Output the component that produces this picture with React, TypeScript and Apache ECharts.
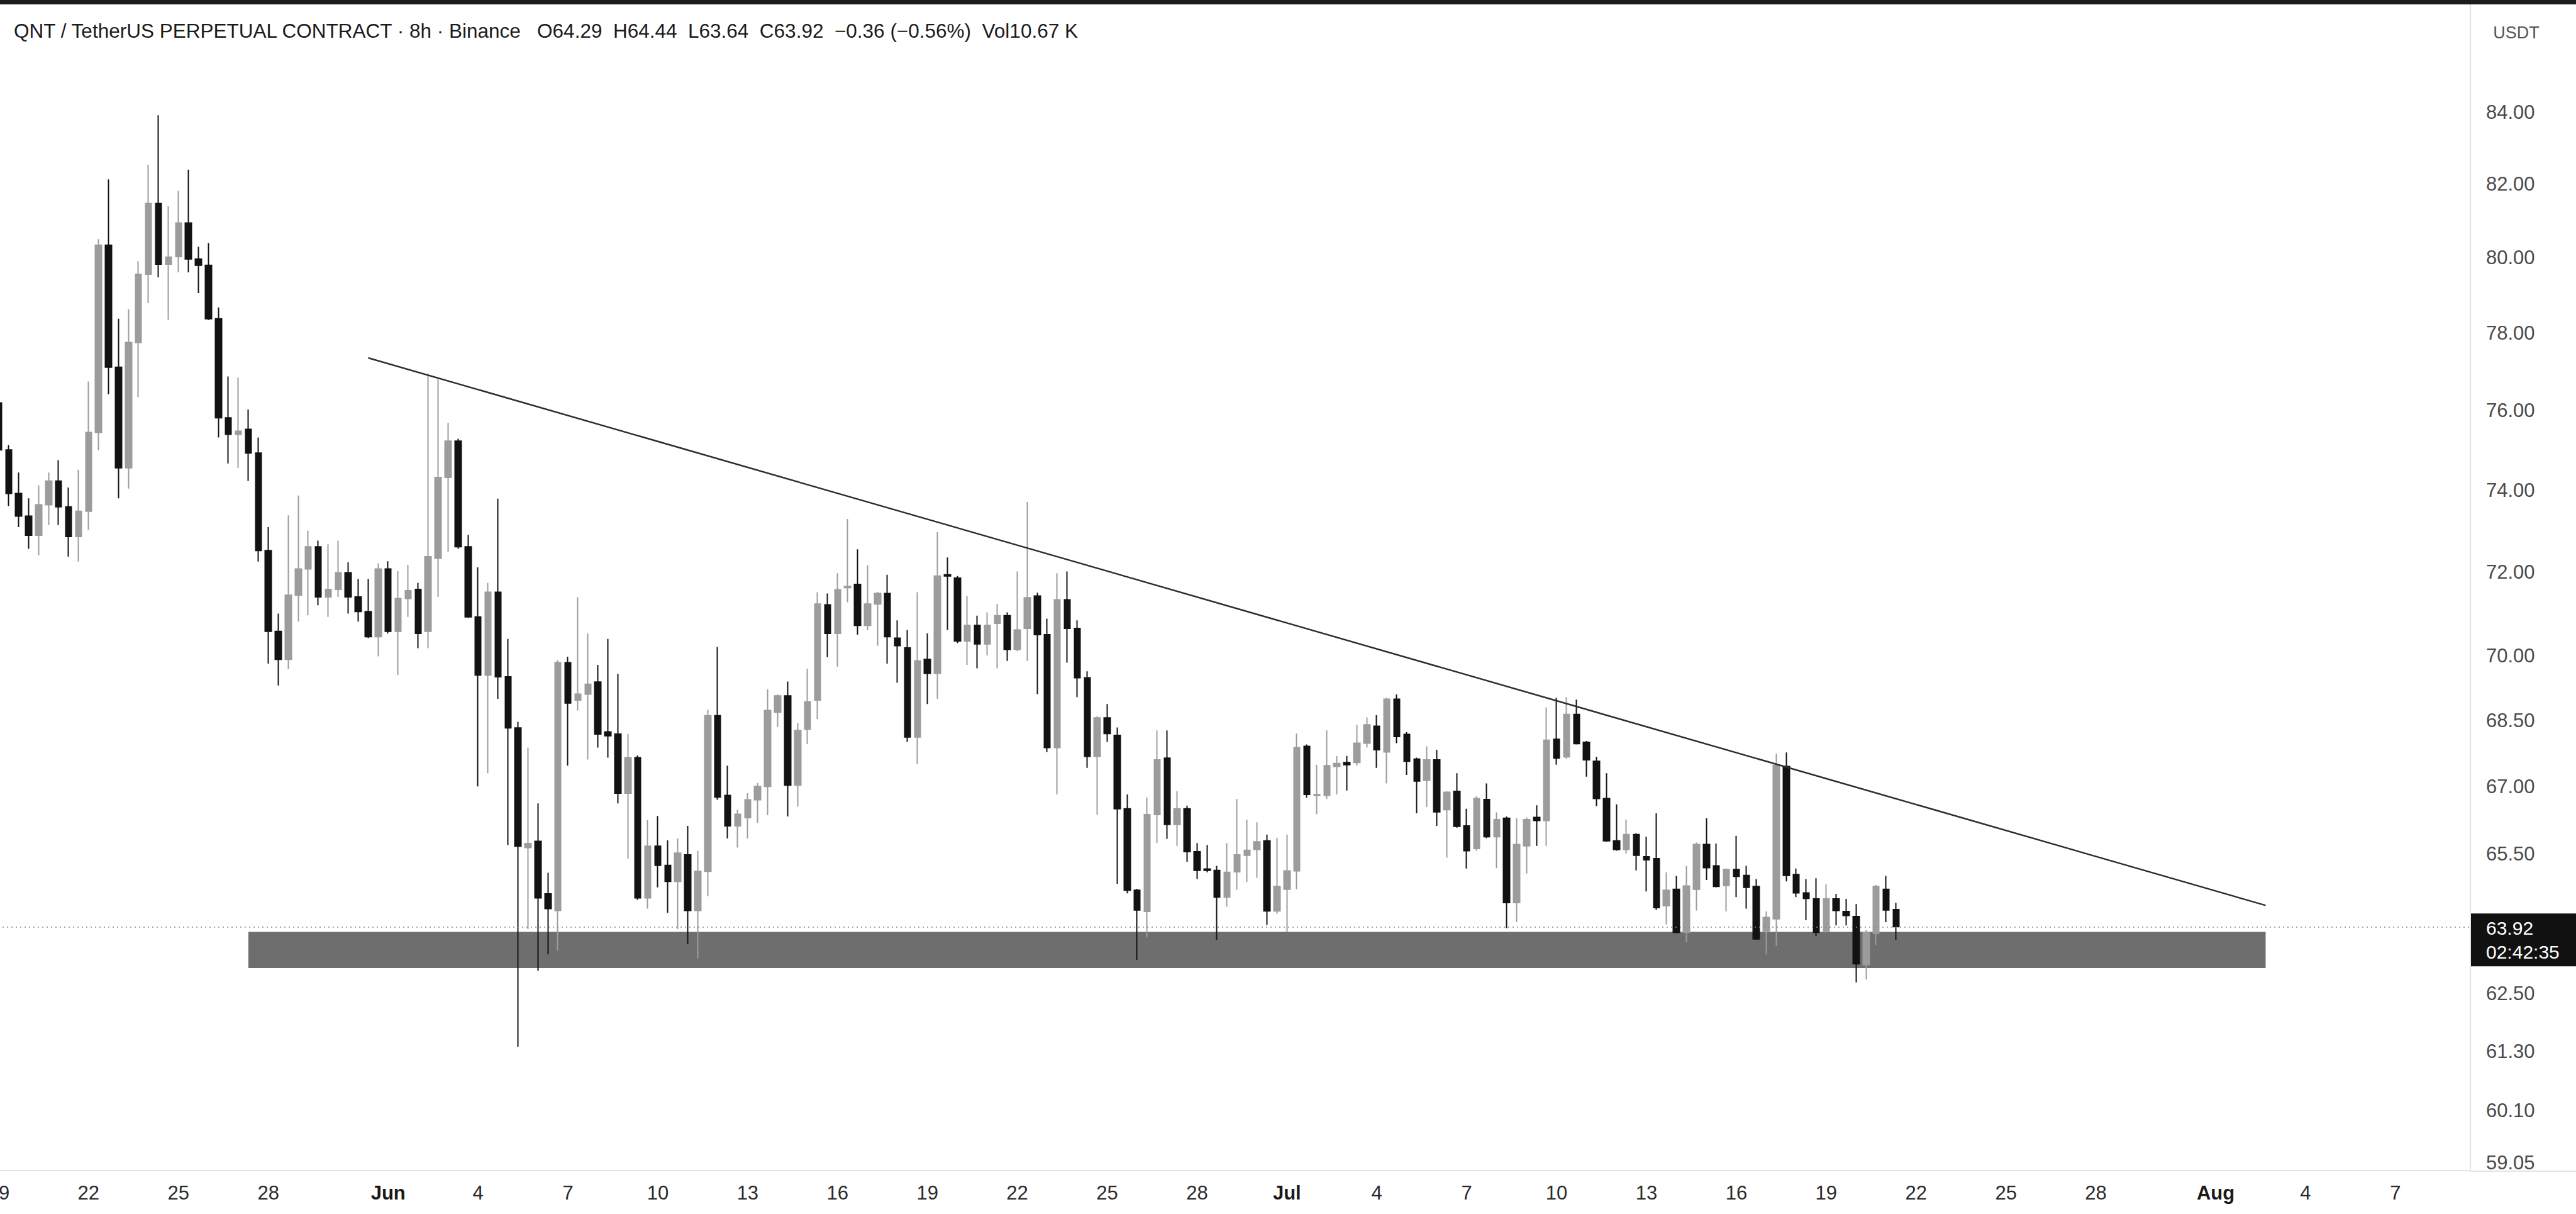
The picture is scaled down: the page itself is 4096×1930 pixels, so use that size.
import React, { useEffect, useRef } from "react";
import * as echarts from "echarts";

// ---------- data ----------
const MONTHS = ["Jan", "Feb", "Mar", "Apr", "May", "Jun", "Jul", "Aug", "Sep", "Oct", "Nov", "Dec"];
const MONTH_DAYS = [31, 28, 31, 30, 31, 30, 31, 31, 30, 31, 30, 31];
const START_MONTH = 4; // May
const START_DAY = 19;
const SLOT_HOURS = ["00:00", "08:00", "16:00"];
const SLOT_COUNT = 248; // 8h slots on the time axis (incl. empty future space)

// 8h candles from May 19 00:00: [open, high, low, close]
const candles: [number, number, number, number][] = [
  [76.2, 76.4, 74.8, 75.01], [75.01, 75.13, 73.61, 73.92], [73.92, 74.44, 73.09, 73.36], [73.36, 73.8, 72.56, 72.89],
  [72.89, 74.12, 72.4, 73.64], [73.64, 74.44, 73.14, 74.23], [74.23, 74.75, 73.14, 73.59], [73.59, 74.07, 72.37, 72.86],
  [72.86, 74.51, 72.25, 73.48], [73.48, 76.75, 73.02, 75.45], [75.45, 80.5, 75.0, 80.34], [80.34, 82.13, 76.42, 77.12],
  [77.12, 78.38, 73.8, 74.56], [74.56, 78.63, 74.04, 77.76], [77.76, 79.91, 76.34, 79.56], [79.56, 82.54, 78.79, 81.47],
  [81.47, 83.92, 79.48, 79.83], [79.83, 81.4, 78.35, 80.02], [80.03, 81.82, 79.61, 80.94], [80.94, 82.4, 79.61, 79.97],
  [79.97, 80.3, 79.06, 79.8], [79.8, 80.4, 78.35, 78.38], [78.38, 78.68, 75.32, 75.82], [75.82, 76.88, 74.67, 75.4],
  [75.4, 76.85, 74.56, 75.48], [75.53, 76.03, 74.23, 74.93], [74.93, 75.32, 72.25, 72.52], [72.52, 73.09, 69.82, 70.58],
  [70.58, 71.0, 69.31, 69.92], [69.92, 73.38, 69.69, 71.44], [71.44, 73.87, 70.81, 72.07], [72.07, 73.0, 70.96, 72.61],
  [72.61, 72.76, 71.2, 71.4], [71.4, 72.67, 70.92, 71.58], [71.58, 72.76, 71.4, 71.98], [71.98, 72.23, 71.0, 71.4],
  [71.4, 71.83, 70.81, 71.05], [71.05, 71.83, 70.42, 70.45], [70.45, 72.21, 69.99, 72.07], [72.07, 72.26, 70.53, 70.58],
  [70.58, 72.02, 69.55, 71.36], [71.36, 72.17, 70.92, 71.55], [71.58, 71.74, 70.18, 70.53], [70.58, 76.95, 70.18, 72.37],
  [72.33, 76.8, 71.4, 74.32], [74.32, 75.69, 72.49, 75.23], [75.23, 75.29, 72.56, 72.61], [72.61, 72.9, 70.9, 70.92],
  [70.92, 72.11, 67.0, 69.55], [69.55, 71.74, 67.3, 71.51], [71.51, 73.79, 69.0, 69.51], [69.51, 70.4, 65.7, 68.33],
  [68.33, 68.47, 61.4, 65.67], [65.64, 67.88, 63.87, 65.73], [65.78, 66.62, 62.98, 64.54], [64.63, 65.09, 63.33, 64.31],
  [64.27, 69.9, 63.41, 69.84], [69.84, 69.98, 67.47, 68.9], [68.97, 71.39, 68.73, 69.11], [69.11, 70.53, 67.61, 69.34],
  [69.39, 69.79, 67.88, 68.19], [68.24, 70.4, 67.65, 68.15], [68.19, 69.58, 66.62, 66.85], [66.85, 68.19, 65.4, 67.65],
  [67.65, 67.7, 64.5, 64.54], [64.54, 66.25, 64.31, 65.67], [65.67, 66.34, 64.77, 65.25], [65.25, 65.8, 64.22, 64.9],
  [64.9, 65.84, 63.87, 65.52], [65.48, 66.12, 63.55, 64.27], [64.27, 65.57, 63.24, 65.12], [65.12, 68.75, 64.58, 68.61],
  [68.61, 70.21, 66.7, 66.76], [66.8, 67.47, 65.84, 66.12], [66.12, 66.48, 65.64, 66.38], [66.3, 66.85, 65.84, 66.7],
  [66.7, 67.08, 66.19, 67.0], [67.0, 69.22, 66.36, 68.73], [68.69, 69.1, 68.35, 69.07], [69.07, 69.4, 66.33, 67.03],
  [67.03, 68.44, 66.55, 68.27], [68.3, 69.7, 67.96, 68.93], [68.97, 71.51, 68.53, 71.23], [71.21, 71.48, 69.97, 70.53],
  [70.53, 71.97, 69.75, 71.57], [71.62, 73.29, 71.27, 71.65], [71.7, 72.55, 70.5, 70.72], [70.72, 72.16, 70.61, 71.23],
  [71.23, 71.52, 70.24, 71.48], [71.48, 71.93, 69.82, 70.45], [70.42, 70.84, 69.37, 70.24], [70.19, 70.61, 68.01, 68.12],
  [68.12, 71.51, 67.5, 69.88], [69.92, 70.53, 68.88, 69.59], [69.59, 72.97, 69.0, 71.9], [71.93, 72.35, 70.61, 71.9],
  [71.85, 71.9, 70.3, 70.35], [70.35, 71.42, 69.79, 70.72], [70.72, 70.95, 69.71, 70.28], [70.28, 71.03, 70.01, 70.72],
  [70.77, 71.23, 69.71, 70.95], [70.95, 71.03, 69.88, 70.15], [70.15, 72.01, 70.11, 70.61], [70.65, 73.71, 69.88, 71.38],
  [71.42, 71.5, 69.11, 70.5], [70.5, 70.88, 67.78, 67.88], [67.88, 71.97, 66.82, 71.33], [71.33, 72.01, 69.84, 70.65],
  [70.65, 70.84, 69.04, 69.49], [69.49, 69.64, 67.42, 67.68], [67.68, 68.6, 66.37, 68.56], [68.56, 68.88, 68.01, 68.2],
  [68.16, 68.34, 64.85, 66.5], [66.5, 66.82, 64.64, 64.71], [64.71, 64.74, 63.21, 64.28], [64.25, 66.75, 63.7, 66.37],
  [66.37, 68.27, 65.74, 67.6], [67.64, 68.27, 65.83, 66.15], [66.15, 66.89, 65.68, 66.5], [66.5, 66.57, 65.33, 65.55],
  [65.55, 65.74, 64.95, 65.14], [65.17, 65.7, 65.1, 65.14], [65.14, 65.24, 63.64, 64.56], [64.56, 65.74, 64.35, 65.1],
  [65.11, 66.72, 64.72, 65.48], [65.47, 66.26, 64.89, 65.58], [65.6, 66.2, 64.98, 65.77], [65.79, 65.93, 63.96, 64.26],
  [64.26, 65.86, 64.2, 64.79], [64.73, 65.93, 63.81, 65.13], [65.13, 68.2, 64.73, 67.88], [67.91, 67.95, 66.75, 66.82],
  [66.8, 67.49, 66.38, 66.82], [66.8, 68.27, 66.72, 67.47], [67.45, 67.69, 66.82, 67.52], [67.54, 67.69, 66.91, 67.49],
  [67.54, 68.4, 67.47, 67.98], [67.98, 68.57, 67.88, 68.4], [68.37, 68.62, 67.42, 67.83], [67.78, 69.02, 67.07, 68.99],
  [68.99, 69.1, 67.98, 68.13], [68.18, 68.23, 67.26, 67.57], [67.62, 67.65, 66.4, 67.12], [67.14, 67.91, 66.54, 67.6],
  [67.6, 67.83, 66.12, 66.43], [66.48, 66.89, 65.42, 66.87], [66.89, 67.3, 66.08, 66.11], [66.12, 66.5, 65.18, 65.57],
  [65.62, 66.78, 65.57, 66.73], [66.71, 67.07, 65.85, 65.88], [65.88, 66.42, 65.19, 66.26], [66.29, 66.33, 63.89, 64.44],
  [64.44, 66.29, 64.02, 65.71], [65.68, 66.31, 65.07, 66.26], [66.31, 66.58, 65.68, 66.24], [66.24, 68.8, 65.68, 68.05],
  [68.07, 69.02, 67.49, 67.64], [67.67, 69.04, 67.62, 68.64], [68.64, 68.98, 67.95, 67.97], [68.0, 68.03, 67.22, 67.6],
  [67.57, 67.67, 66.56, 66.73], [66.73, 67.3, 65.77, 65.79], [65.79, 66.6, 65.57, 65.6], [65.6, 66.26, 65.51, 65.93],
  [65.93, 65.96, 65.14, 65.47], [65.44, 65.88, 64.68, 65.37], [65.4, 66.4, 64.28, 64.33], [64.37, 65.1, 63.97, 64.71],
  [64.73, 65.02, 63.78, 63.8], [63.8, 65.24, 63.59, 64.8], [64.73, 65.75, 64.27, 65.71], [65.71, 66.29, 64.93, 65.2],
  [65.24, 65.73, 64.77, 64.79], [64.81, 65.18, 64.25, 65.16], [65.16, 65.9, 64.56, 65.01], [65.03, 65.24, 64.31, 64.77],
  [64.79, 64.95, 63.64, 63.66], [63.83, 64.25, 63.33, 64.12], [64.09, 67.74, 63.51, 67.48], [67.45, 67.77, 64.9, 65.03],
  [65.05, 65.18, 64.56, 64.65], [64.65, 64.95, 64.06, 64.53], [64.52, 64.97, 63.72, 63.8], [63.83, 64.84, 63.8, 64.52],
  [64.52, 64.63, 63.95, 64.27], [64.25, 64.52, 63.95, 64.16], [64.14, 64.41, 62.74, 63.13], [63.11, 63.85, 62.8, 63.8],
  [63.78, 64.82, 63.53, 64.79], [64.73, 65.02, 64.02, 64.28], [64.29, 64.44, 63.64, 63.92],
];

const priceTicks = [59.05, 60.1, 61.3, 62.5, 65.5, 67.0, 68.5, 70.0, 72.0, 74.0, 76.0, 78.0, 80.0, 82.0, 84.0];
const priceRange = { min: 58.9, max: 87.08 };
const trendLine = [
  { index: 37, price: 77.36 },
  { index: 227, price: 64.38 },
];
const supportZone = { from: 25, to: 227, top: 63.81, bottom: 63.04 };
const lastInfo = { volume: "10.67 K", countdown: "02:42:35" };
const TITLE = "QNT / TetherUS PERPETUAL CONTRACT · 8h · Binance";

// ---------- helpers ----------
const ln = Math.log;
const categories: string[] = [];
{
  let m = START_MONTH;
  let d = START_DAY;
  for (let s = 0; s < SLOT_COUNT; s++) {
    categories.push(`${MONTHS[m]} ${d} ${SLOT_HOURS[s % 3]}`);
    if (s % 3 === 2) {
      d++;
      if (d > MONTH_DAYS[m]) {
        d = 1;
        m++;
      }
    }
  }
}

const UP = "#9c9c9c";
const DOWN = "#121212";
const FONT = "'Liberation Sans', Arial, sans-serif";
const AXIS_FONT_SIZE = 31;

export default function App() {
  const ref = useRef<HTMLDivElement>(null);

  useEffect(() => {
    if (!ref.current) return;
    const chart = echarts.init(ref.current, undefined, { renderer: "svg" });

    const last = candles[candles.length - 1];
    const prevClose = candles[candles.length - 2][3];
    const chg = last[3] - prevClose;
    const pct = (chg / prevClose) * 100;
    const sgn = (v: number) => (v < 0 ? "\u2212" : "+") + Math.abs(v).toFixed(2);
    const header =
      `${TITLE}   O${last[0].toFixed(2)}  H${last[1].toFixed(2)}  L${last[2].toFixed(2)}  C${last[3].toFixed(2)}  ` +
      `${sgn(chg)} (${sgn(pct)}%)  Vol${lastInfo.volume}`;

    const option: any = {
      animation: false,
      backgroundColor: "#ffffff",
      title: [
        {
          text: header,
          left: 22,
          top: 33,
          padding: 0,
          textStyle: { fontFamily: FONT, fontSize: 31.5, fontWeight: "normal", color: "#1b1b1b" },
        },
      ],
      grid: {
        left: -10,
        right: 168,
        top: 8,
        bottom: 69,
        containLabel: false,
        outerBoundsMode: "none",
      },
      xAxis: {
        type: "category",
        data: categories,
        boundaryGap: true,
        axisLine: { show: true, lineStyle: { color: "#e3e3e3", width: 2 } },
        axisTick: { show: false },
        splitLine: { show: false },
        axisLabel: {
          interval: (_i: number, value: string) => {
            const [, day, time] = value.split(" ");
            const dd = Number(day);
            return time === "00:00" && (dd - 1) % 3 === 0 && dd <= 28;
          },
          formatter: (value: string) => {
            const [mon, day] = value.split(" ");
            return day === "1" ? `{m|${mon}}` : day;
          },
          color: "#2a2a2a",
          fontSize: AXIS_FONT_SIZE,
          fontFamily: FONT,
          margin: 20,
          hideOverlap: false,
          rich: { m: { fontSize: AXIS_FONT_SIZE, fontWeight: "bold", color: "#1a1a1a", fontFamily: FONT } },
        },
      },
      yAxis: {
        type: "value",
        position: "right",
        min: ln(priceRange.min),
        max: ln(priceRange.max),
        scale: true,
        splitLine: { show: false },
        axisTick: { show: false },
        axisLine: { show: true, lineStyle: { color: "#e3e3e3", width: 2 } },
        axisLabel: {
          customValues: priceTicks.map((p) => ln(p)),
          formatter: (v: number) => Math.exp(v).toFixed(2),
          color: "#4a4a4a",
          fontSize: AXIS_FONT_SIZE,
          fontFamily: FONT,
          margin: 25,
        },
      },
      series: [
        {
          type: "candlestick",
          data: candles.map(([o, h, l, c]) => [ln(o), ln(c), ln(l), ln(h)]),
          barWidth: 10,
          itemStyle: { color: UP, color0: DOWN, borderColor: UP, borderColor0: DOWN, borderWidth: 2 },
          markArea: {
            silent: true,
            itemStyle: { color: "#6e6e6e", opacity: 1 },
            data: [
              [
                { xAxis: categories[supportZone.from], yAxis: ln(supportZone.top) },
                { xAxis: categories[supportZone.to], yAxis: ln(supportZone.bottom) },
              ],
            ],
          },
          markLine: {
            silent: true,
            precision: 12,
            symbol: ["none", "none"],
            data: [
              [
                {
                  coord: [categories[trendLine[0].index], ln(trendLine[0].price)],
                  lineStyle: { color: "#2e2e2e", width: 2.5, type: "solid" },
                  label: { show: false },
                },
                { coord: [categories[trendLine[1].index], ln(trendLine[1].price)] },
              ],
              {
                yAxis: ln(last[3]),
                lineStyle: { color: "#8a8a8a", width: 1.5, type: [2, 5] },
                label: {
                  show: true,
                  position: "end",
                  distance: 1,
                  formatter: `${last[3].toFixed(2)}\n${lastInfo.countdown}`,
                  backgroundColor: "#111111",
                  color: "#ffffff",
                  fontFamily: FONT,
                  fontSize: 30,
                  lineHeight: 38,
                  padding: [4, 40, 4, 24],
                  align: "left",
                  offset: [0, 21],
                },
              },
            ],
          },
        },
      ],
      graphic: [
        { type: "rect", left: 0, top: 0, shape: { width: 4096, height: 7 }, style: { fill: "#1c1c1c" }, z: 100 },
        {
          type: "line",
          shape: { x1: 3928, y1: 1862, x2: 4096, y2: 1862 },
          style: { stroke: "#e3e3e3", lineWidth: 2 },
        },
        {
          type: "text",
          x: 4001,
          y: 52,
          style: {
            text: "USDT",
            fill: "#555555",
            font: `27px ${FONT}`,
            textAlign: "center",
            textVerticalAlign: "middle",
          },
        },
      ],
    };

    chart.setOption(option);
    return () => chart.dispose();
  }, []);

  return (
    <div
      ref={ref}
      style={{ position: "fixed", left: 0, top: 0, width: 4096, height: 1930, background: "#fff" }}
    />
  );
}
